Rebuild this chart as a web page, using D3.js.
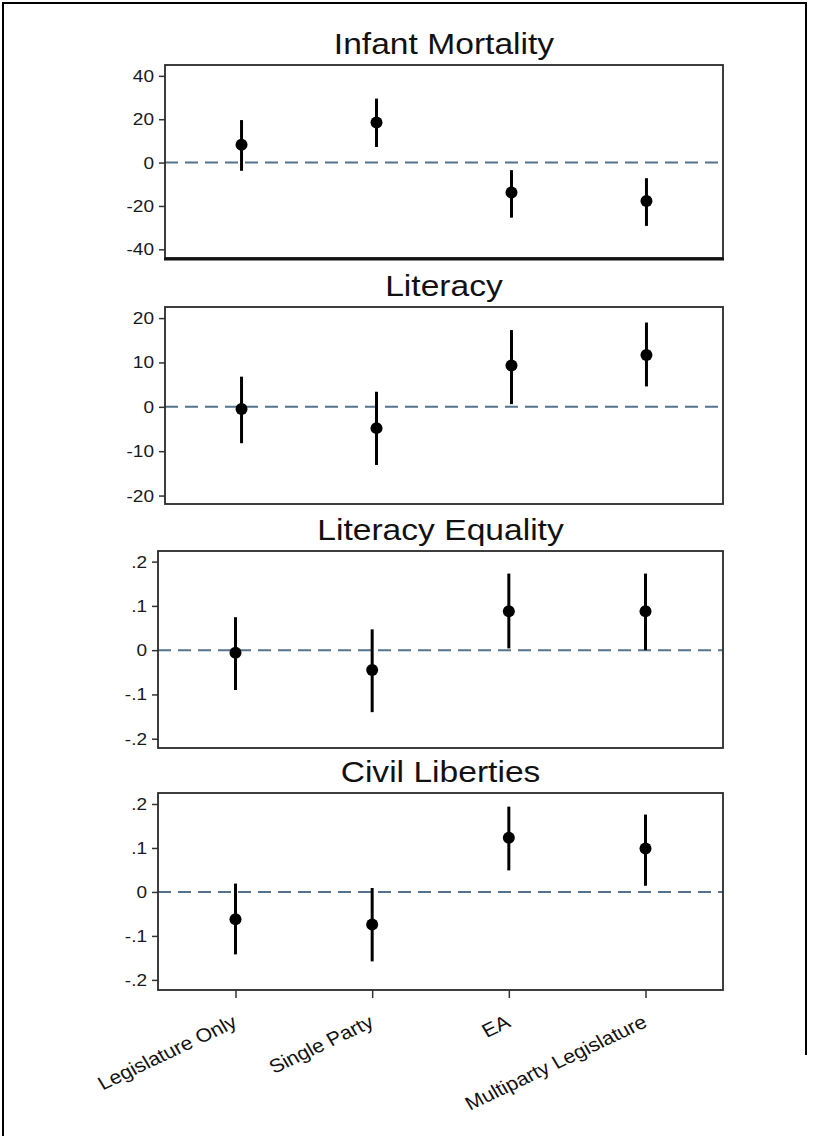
<!DOCTYPE html>
<html>
<head>
<meta charset="utf-8">
<script src="https://cdn.jsdelivr.net/npm/d3@7"></script>
<style>
  body { margin: 0; background: #fff; }
  text { font-family: "Liberation Sans", Arial, sans-serif; }
</style>
</head>
<body>
<div id="chart-area"></div>
<script>
var width = 818,
    height = 1136;

// data
var categories = ["Legislature Only", "Single Party", "EA", "Multiparty Legislature"];
var titles = ["Infant Mortality", "Literacy", "Literacy Equality", "Civil Liberties"];
var estimates = [
    [8.2, 18.5, -13.8, -17.7],
    [-0.5, -4.8, 9.3, 11.7],
    [-0.006, -0.045, 0.088, 0.088],
    [-0.062, -0.074, 0.123, 0.099]
];
var lowerCI = [
    [-3.8, 7.2, -25.4, -29.2],
    [-8.2, -13.1, 0.6, 4.6],
    [-0.090, -0.140, 0.004, 0.0],
    [-0.142, -0.158, 0.049, 0.014]
];
var upperCI = [
    [19.6, 29.5, -3.5, -7.2],
    [6.8, 3.4, 17.3, 19.0],
    [0.0745, 0.047, 0.173, 0.173],
    [0.019, 0.009, 0.194, 0.176]
];
var yTicks = [
    [-40, -20, 0, 20, 40],
    [-20, -10, 0, 10, 20],
    [-0.2, -0.1, 0, 0.1, 0.2],
    [-0.2, -0.1, 0, 0.1, 0.2]
];
var yDomains = [[-44, 45], [-21.9, 22.5], [-0.221, 0.224], [-0.223, 0.225]];

// panel boxes
var panels = [
    {left: 165, right: 723, top: 65, bottom: 258},
    {left: 165, right: 723, top: 307, bottom: 504},
    {left: 158, right: 723, top: 551, bottom: 748},
    {left: 158, right: 723, top: 793, bottom: 990}
];

var stretch = 1.12;   // glyphs in the picture are a bit wide

var svg = d3.select("#chart-area").append("svg")
    .attr("width", width)
    .attr("height", height);

// outer frame
svg.append("path")
    .attr("d", "M3,1136 V3 H806 V1055")
    .attr("fill", "none")
    .attr("stroke", "#000")
    .attr("stroke-width", 2);

function fmt(d) {
    if (d === 0) return "0";
    return String(d).replace("0.", ".");
}

panels.forEach(function(p, i) {
    var x = d3.scalePoint()
        .domain(categories)
        .range([p.left, p.right])
        .padding(0.567);

    var y = d3.scaleLinear()
        .domain(yDomains[i])
        .range([p.bottom, p.top]);

    var g = svg.append("g");

    // title
    g.append("text")
        .attr("transform", "translate(" + ((p.left + p.right) / 2) + "," + (p.top - 11) + ") scale(" + stretch + ",1)")
        .attr("text-anchor", "middle")
        .attr("font-size", 30)
        .attr("fill", "#111")
        .text(titles[i]);

    // y axis
    var yAxis = g.append("g")
        .attr("transform", "translate(" + p.left + ",0)")
        .call(d3.axisLeft(y).tickValues(yTicks[i]).tickSize(6).tickPadding(5).tickFormat(fmt));
    yAxis.select(".domain").remove();
    yAxis.selectAll(".tick line").attr("stroke", "#333").attr("stroke-width", 1.5);
    yAxis.selectAll(".tick text")
        .attr("font-size", 17)
        .attr("font-family", "Liberation Sans, Arial, sans-serif")
        .attr("fill", "#1a1a1a")
        .attr("transform", function() {
            var tx = d3.select(this).attr("x");
            return "translate(" + (+tx) + ",0) scale(" + stretch + ",1) translate(" + (-tx) + ",0)";
        });

    // zero line
    g.append("line")
        .attr("x1", p.left).attr("x2", p.right)
        .attr("y1", y(0)).attr("y2", y(0))
        .attr("stroke", "#55738c")
        .attr("stroke-width", 2)
        .attr("stroke-dasharray", "13,7");

    // frame
    g.append("rect")
        .attr("x", p.left).attr("y", p.top)
        .attr("width", p.right - p.left)
        .attr("height", p.bottom - p.top)
        .attr("fill", "none")
        .attr("stroke", "#2a2a2a")
        .attr("stroke-width", 1.8);

    if (i === 0) {
        g.append("line")
            .attr("x1", p.left - 1).attr("x2", p.right + 1)
            .attr("y1", p.bottom + 1).attr("y2", p.bottom + 1)
            .attr("stroke", "#111")
            .attr("stroke-width", 3);
    }

    // confidence intervals
    g.selectAll(".ci")
        .data(categories)
        .enter().append("line")
        .attr("class", "ci")
        .attr("x1", d => x(d)).attr("x2", d => x(d))
        .attr("y1", (d, j) => y(lowerCI[i][j]))
        .attr("y2", (d, j) => y(upperCI[i][j]))
        .attr("stroke", "#000")
        .attr("stroke-width", 3);

    // point estimates
    g.selectAll(".pt")
        .data(categories)
        .enter().append("circle")
        .attr("class", "pt")
        .attr("cx", d => x(d))
        .attr("cy", (d, j) => y(estimates[i][j]))
        .attr("r", 6)
        .attr("fill", "#000");

    // x axis only on the last panel
    if (i === panels.length - 1) {
        var xAxis = g.append("g")
            .attr("transform", "translate(0," + p.bottom + ")")
            .call(d3.axisBottom(x).tickSize(8).tickFormat(""));
        xAxis.select(".domain").remove();
        xAxis.selectAll(".tick line").attr("stroke", "#333").attr("stroke-width", 1.5);

        g.selectAll(".xlab")
            .data(categories)
            .enter().append("text")
            .attr("class", "xlab")
            .attr("transform", d => "translate(" + (x(d) + 3) + "," + (p.bottom + 36) + ") scale(" + stretch + ",1) rotate(-28)")
            .attr("text-anchor", "end")
            .attr("font-size", 19)
            .attr("fill", "#111")
            .text(d => d);
    }
});
</script>
</body>
</html>
